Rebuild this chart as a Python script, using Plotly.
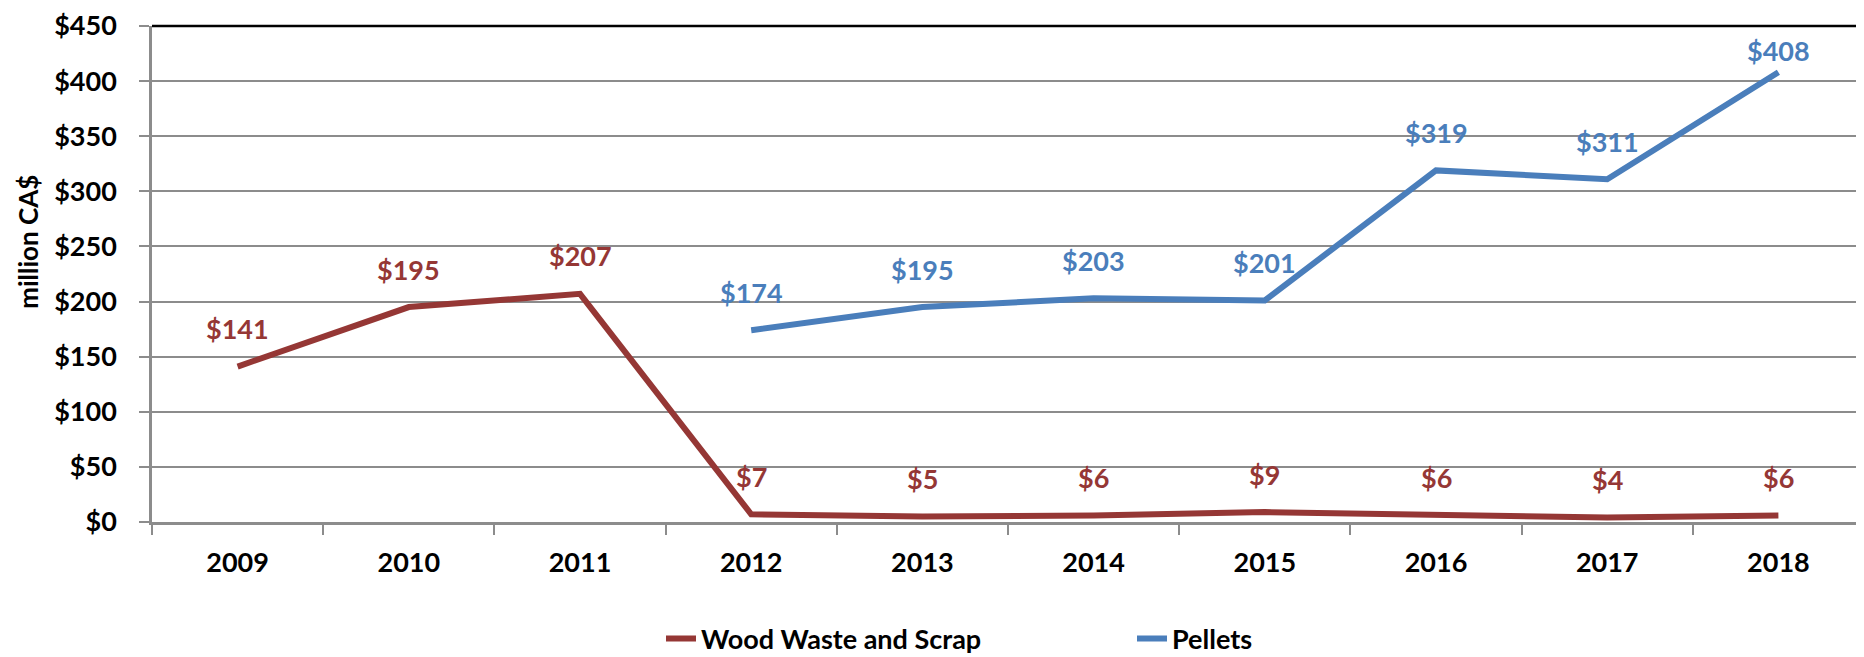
import plotly.graph_objects as go

# ---- data ----
years = ["2009", "2010", "2011", "2012", "2013", "2014", "2015", "2016", "2017", "2018"]
wood_waste = [141, 195, 207, 7, 5, 6, 9, 6, 4, 6]
pellets = [None, None, None, 174, 195, 203, 201, 319, 311, 408]
series_names = ["Wood Waste and Scrap", "Pellets"]
y_ticks = [0, 50, 100, 150, 200, 250, 300, 350, 400, 450]

# ---- style ----
RED = "#953735"
BLUE = "#4A7EBB"
GRID = "#8C8C8C"
FONT = "Lato, Carlito, Calibri, sans-serif"
FS = 27
# the page body adds an 8px margin, so the figure is 8px smaller in each direction
W, H = 1856, 649
MT, MB = 14, 135
PLOT_H = H - MT - MB
Y_MAX = y_ticks[-1]
PX_PER_UNIT = PLOT_H / Y_MAX
LABEL_GAP = 38      # label centre above the point
LABEL_TOP_PAD = 25  # label centre kept at least this far below the plot top

fig = go.Figure()
for name, vals, col in [(series_names[0], wood_waste, RED), (series_names[1], pellets, BLUE)]:
    fig.add_trace(go.Scatter(
        x=years, y=vals, name=name, mode="lines",
        line=dict(color=col, width=6),
        connectgaps=False, hoverinfo="skip",
    ))
    for i, v in enumerate(vals):
        if v is None:
            continue
        shift = min(LABEL_GAP, (Y_MAX - v) * PX_PER_UNIT - LABEL_TOP_PAD)
        fig.add_annotation(
            x=i, y=v, xref="x", yref="y", text=f"${v}", showarrow=False,
            xanchor="center", yanchor="middle",
            yshift=shift, font=dict(family=FONT, size=FS, color=col, weight="bold"),
        )

# top frame line
fig.add_shape(type="line", xref="paper", yref="paper", x0=0, x1=1, y0=1, y1=1,
              line=dict(color="black", width=2.5), layer="above")

# y-axis title
fig.add_annotation(
    text="million CA$", xref="paper", yref="paper", x=-0.0724, y=0.565,
    xanchor="center", yanchor="middle",
    textangle=-90, showarrow=False,
    font=dict(family=FONT, size=26, color="black", weight="bold"),
)

fig.update_layout(
    width=W, height=H,
    margin=dict(l=144, r=0, t=MT, b=MB),
    paper_bgcolor="white", plot_bgcolor="white",
    font=dict(family=FONT, size=FS, color="black", weight="bold"),
    showlegend=True,
    legend=dict(
        orientation="h", xref="container", yref="container",
        x=653 / W, xanchor="left", y=1 - 631 / H, yanchor="middle",
        entrywidth=426, entrywidthmode="pixels",
        font=dict(family=FONT, size=FS, color="black", weight="bold"),
        bgcolor="rgba(0,0,0,0)",
    ),
    xaxis=dict(
        type="category", range=[-0.5, len(years) - 0.5],
        showgrid=False, showline=True, linecolor=GRID, linewidth=2.5,
        ticks="outside", tickson="boundaries", ticklen=10, tickwidth=2, tickcolor=GRID,
        ticklabelstandoff=15,
        tickfont=dict(family=FONT, size=FS, color="black", weight="bold"),
        zeroline=False,
    ),
    yaxis=dict(
        range=[0, Y_MAX], tickvals=y_ticks, ticktext=[f"${t}" for t in y_ticks],
        showgrid=True, gridcolor=GRID, gridwidth=2,
        showline=True, linecolor=GRID, linewidth=2.5,
        ticks="outside", ticklen=10, tickwidth=2, tickcolor=GRID,
        ticklabelstandoff=17, ticklabeloverflow="allow",
        tickfont=dict(family=FONT, size=FS, color="black", weight="bold"),
        zeroline=False,
    ),
)

fig.write_html("out.html")
